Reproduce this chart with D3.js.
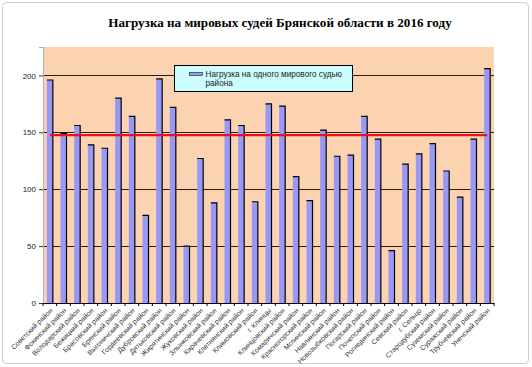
<!doctype html>
<html lang="ru">
<head>
  <meta charset="utf-8">
  <title>Нагрузка на мировых судей</title>
  <style>
    body { margin: 0; background: #fff; }
    svg { display: block; font-family: Arial, "Liberation Sans", sans-serif; }
  </style>
</head>
<body>
  <div id="chart"></div>
  <script src="https://d3js.org/d3.v7.min.js"></script>
  <script>
    // Data --------------------------------------------------------------------
    const districts = [
      "Советский район", "Фокинский район", "Володарский район", "Бежицкий район",
      "Брасовский район", "Брянский район", "Выгоничский район", "Гордеевский район",
      "Дубровский район", "Дятьковский район", "Жирятинский район", "Жуковский район",
      "Злынковский район", "Карачевский район", "Клетнянский район", "Климовский район",
      "г. Клинцы", "Клинцовский район", "Комаричский район", "Красногорский район",
      "Мглинский район", "Навлинский район", "Новозыбковский район", "Погарский район",
      "Почепский район", "Рогнединский район", "Севский район", "г. Сельцо",
      "Стародубский район", "Суземский район", "Суражский район", "Трубчевский район",
      "Унечский район"
    ];
    const loadPerJudge = [
      196, 149, 156, 139, 136, 180, 164, 77, 197, 172, 50, 127,
      88, 161, 156, 89, 175, 173, 111, 90, 152, 129, 130, 164,
      144, 46, 122, 131, 140, 116, 93, 144, 206
    ];
    const averageLoad = 147.6;
    const yTicks = [0, 50, 100, 150, 200];

    const title = "Нагрузка на мировых судей Брянской области в 2016 году";
    const legendLines = ["Нагрузка на одного мирового судью", "района"];

    // Layout ------------------------------------------------------------------
    const width = 532;
    const height = 367;
    const plot = { left: 43, right: 494, top: 47, bottom: 303 };

    const svg = d3.select("#chart")
      .append("svg")
      .attr("width", width)
      .attr("height", height);

    // outer frame
    svg.append("rect")
      .attr("x", 2.5).attr("y", 2.5)
      .attr("width", 526).attr("height", 361)
      .attr("rx", 4)
      .attr("fill", "#fff")
      .attr("stroke", "#c9ccd1");

    const x = d3.scaleBand()
      .domain(districts)
      .range([plot.left, plot.right])
      .padding(0);

    const y = d3.scaleLinear()
      .domain([0, 225])
      .range([plot.bottom, plot.top]);

    // Plot area -------------------------------------------------------------
    svg.append("rect")
      .attr("x", plot.left)
      .attr("y", y(225))
      .attr("width", plot.right - plot.left)
      .attr("height", y(0) - y(225))
      .attr("fill", "#fcd3b1");

    // gridlines
    svg.append("g")
      .selectAll("line")
      .data(yTicks.filter(d => d > 0))
      .join("line")
      .attr("x1", plot.left)
      .attr("x2", plot.right)
      .attr("y1", d => Math.round(y(d)) + 0.5)
      .attr("y2", d => Math.round(y(d)) + 0.5)
      .attr("stroke", "#2a1a10")
      .attr("stroke-width", 1);

    // y axis
    const yAxis = svg.append("g")
      .attr("transform", `translate(${plot.left},0)`)
      .call(d3.axisLeft(y).tickValues(yTicks).tickSize(4).tickPadding(3));
    yAxis.select(".domain").attr("stroke", "#b0b0b0");
    yAxis.selectAll(".tick line").attr("stroke", "#333");
    yAxis.selectAll("text").attr("font-size", 8).attr("fill", "#222");

    // bars
    const barW = x.bandwidth() * 0.44;
    const bars = svg.append("g")
      .selectAll("g")
      .data(districts.map((d, i) => ({ name: d, value: loadPerJudge[i] })))
      .join("g");

    bars.append("rect")
      .attr("x", d => x(d.name) + (x.bandwidth() - barW) / 2)
      .attr("y", d => y(d.value))
      .attr("width", barW)
      .attr("height", d => y(0) - y(d.value))
      .attr("fill", "#9999f5");

    bars.append("path")
      .attr("d", d => {
        const x0 = x(d.name) + (x.bandwidth() - barW) / 2;
        const x1 = x0 + barW;
        return `M${x0},${y(d.value)}H${x1}V${y(0)}`;
      })
      .attr("fill", "none")
      .attr("stroke", "#000")
      .attr("stroke-width", 1.2);

    // average line
    svg.append("line")
      .attr("x1", x(districts[0]) + x.bandwidth() / 2)
      .attr("x2", x(districts[districts.length - 1]) + x.bandwidth() / 2)
      .attr("y1", y(averageLoad))
      .attr("y2", y(averageLoad))
      .attr("stroke", "#e8121b")
      .attr("stroke-width", 2.2);

    // x axis
    const xAxis = svg.append("g")
      .attr("transform", `translate(0,${plot.bottom})`)
      .call(d3.axisBottom(x).tickSize(0).tickPadding(4));
    xAxis.select(".domain").attr("stroke", "#000");
    xAxis.selectAll(".tick text")
      .attr("font-size", 7)
      .attr("fill", "#333")
      .attr("text-anchor", "end")
      .attr("transform", "translate(0,2) rotate(-45)")
      .attr("dy", "0.35em")
      .attr("y", 4)
      .attr("x", -2);

    // category boundary ticks
    svg.append("g")
      .selectAll("line")
      .data(districts.map(d => x(d)).concat([plot.right]))
      .join("line")
      .attr("x1", d => d)
      .attr("x2", d => d)
      .attr("y1", plot.bottom)
      .attr("y2", plot.bottom + 3)
      .attr("stroke", "#000");

    // Legend ------------------------------------------------------------------
    const legend = svg.append("g").attr("transform", "translate(174.5,65.5)");
    legend.append("rect")
      .attr("width", 178)
      .attr("height", 26)
      .attr("fill", "#ccfeff")
      .attr("stroke", "#000");
    legend.append("rect")
      .attr("x", 15).attr("y", 7)
      .attr("width", 13).attr("height", 3)
      .attr("fill", "#9999f5")
      .attr("stroke", "#333")
      .attr("stroke-width", 0.7);
    legend.selectAll("text")
      .data(legendLines)
      .join("text")
      .attr("x", 31)
      .attr("y", (d, i) => 11 + i * 9.5)
      .attr("font-size", 8.2)
      .attr("fill", "#222")
      .text(d => d);

    // Title -------------------------------------------------------------------
    svg.append("text")
      .attr("x", 280)
      .attr("y", 27)
      .attr("text-anchor", "middle")
      .attr("font-family", "'Liberation Serif', 'Times New Roman', serif")
      .attr("font-weight", "bold")
      .attr("font-size", 13.1)
      .text(title);
  </script>
</body>
</html>
